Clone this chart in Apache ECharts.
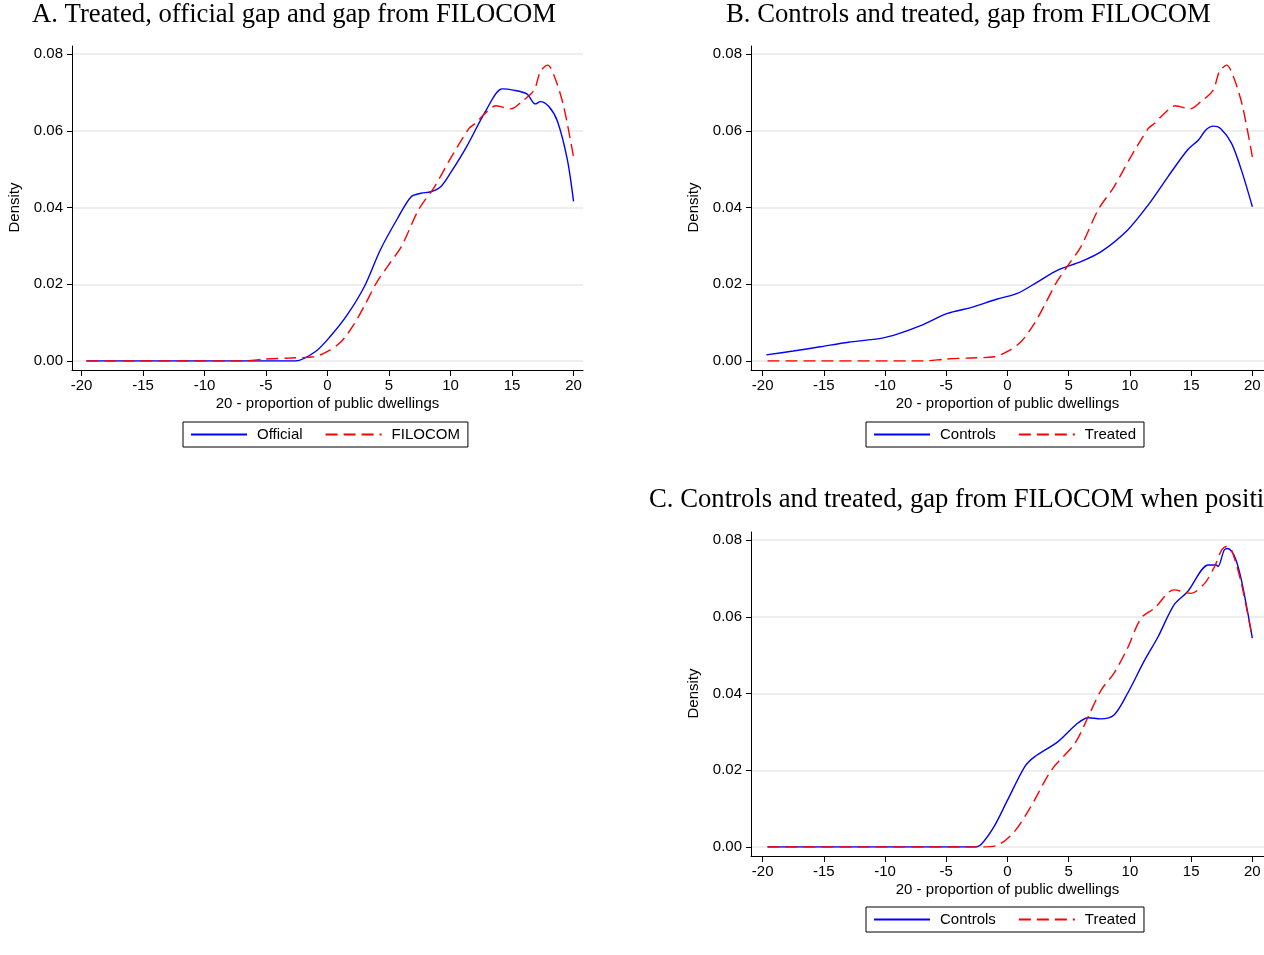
<!DOCTYPE html>
<html>
<head>
<meta charset="utf-8">
<script src="https://cdn.jsdelivr.net/npm/echarts@6/dist/echarts.min.js"></script>
<style>html,body{margin:0;padding:0;background:#fff}#c{width:1264px;height:955px}</style>
</head>
<body>
<div id="c"></div>
<script>
// ---- data ----
const titles = [
  'A. Treated, official gap and gap from FILOCOM',
  'B. Controls and treated, gap from FILOCOM',
  'C. Controls and treated, gap from FILOCOM when positive'
];
const xTicks = [-20, -15, -10, -5, 0, 5, 10, 15, 20];
const xTitle = '20 - proportion of public dwellings';
const yTitle = 'Density';

// Panel A: Official (treated, official gap)
const aOfficialX = [-19.6, -10, -5, -2.6, -1.0, 0.2, 1.6, 3.0, 4.3, 5.7, 6.8, 7.6, 8.4, 9.2, 10.0, 11.3, 12.9, 14.2, 15.1, 16.2, 16.9, 17.3, 18.0, 18.7, 19.5, 20];
const aOfficialY = [0, 0, 0, 0, 0.0024, 0.0063, 0.012, 0.0194, 0.029, 0.0372, 0.0428, 0.0437, 0.0441, 0.0454, 0.049, 0.0558, 0.0654, 0.0709, 0.0706, 0.0696, 0.067, 0.0676, 0.0663, 0.0624, 0.0524, 0.0416];

// Treated, gap from FILOCOM (Panel A "FILOCOM" and Panel B "Treated")
const filocomX = [-19.6, -7, -5, -3, -1.1, 0, 1.1, 2.2, 3.1, 4.0, 5.0, 6.0, 7.4, 8.7, 10.0, 11.5, 12.0, 12.8, 13.7, 14.9, 15.8, 16.8, 17.3, 17.9, 18.5, 19.2, 20];
const filocomY = [0, 0, 0.0005, 0.0008, 0.0011, 0.0025, 0.005, 0.0098, 0.015, 0.0205, 0.0252, 0.0298, 0.0394, 0.0454, 0.0528, 0.0606, 0.0619, 0.0645, 0.0665, 0.0657, 0.0676, 0.0706, 0.0754, 0.0771, 0.0737, 0.0663, 0.0532];

// Panel B: Controls
const bControlsX = [-19.7, -17.5, -15.3, -13, -10.35, -9.0, -7.1, -4.9, -3.0, -0.9, 0.8, 2.5, 4.1, 6.0, 7.65, 9.8, 11.5, 13.1, 14.7, 15.6, 16.2, 16.8, 17.4, 18.3, 19.1, 20];
const bControlsY = [0.0016, 0.0026, 0.0037, 0.0049, 0.0059, 0.007, 0.0092, 0.0124, 0.0139, 0.0161, 0.0176, 0.0207, 0.0237, 0.0259, 0.0285, 0.0341, 0.0407, 0.048, 0.055, 0.0576, 0.0602, 0.0612, 0.0606, 0.0567, 0.0498, 0.0402];

// Panel C: Controls and Treated, gap when positive
const cControlsX = [-19.6, -10, -2.7, -2.2, -1.1, 0, 1.4, 2.2, 4.1, 5.7, 6.6, 7.6, 8.7, 9.8, 11.2, 12.3, 13.6, 14.7, 16.4, 17.05, 17.2, 17.7, 18.0, 18.55, 19.1, 20];
const cControlsY = [0, 0, 0, 0.0005, 0.0053, 0.0122, 0.0209, 0.0235, 0.0274, 0.0322, 0.0337, 0.0334, 0.0344, 0.04, 0.0487, 0.0548, 0.0631, 0.0665, 0.0735, 0.0735, 0.0731, 0.0774, 0.0778, 0.0757, 0.0696, 0.0544];
const cTreatedX = [-19.6, -10, -2.2, -0.8, 0.56, 1.9, 3.6, 5.5, 6.6, 7.65, 8.7, 9.8, 10.9, 12.0, 13.6, 15.0, 16.1, 16.9, 17.5, 17.9, 18.3, 19.1, 20];
const cTreatedY = [0, 0, 0, 0.0005, 0.004, 0.0105, 0.0201, 0.027, 0.034, 0.0409, 0.0453, 0.0518, 0.0596, 0.0622, 0.067, 0.0661, 0.0687, 0.073, 0.0774, 0.0783, 0.0774, 0.0687, 0.0544];

// ---- build ----
const zip = (xs, ys) => xs.map((x, i) => [x, ys[i]]);
const SANS = "'Liberation Sans', Arial, sans-serif";
const SERIF = "'Liberation Serif', 'Times New Roman', serif";
const BLUE = '#0000ff', RED = '#ff0000';

const panels = [
  { left: 72,  top: 54,  width: 511, xr: 20.77, legendLeft: 183, legendTop: 422, names: ['Official', 'FILOCOM'], titleLeft: 32,  titleTop: 1 },
  { left: 751, top: 54,  width: 513, xr: 20.95, legendLeft: 866, legendTop: 422, names: ['Controls', 'Treated'], titleLeft: 726, titleTop: 1 },
  { left: 751, top: 540, width: 513, xr: 20.95, legendLeft: 866, legendTop: 907, names: ['Controls', 'Treated'], titleLeft: 649, titleTop: 486 }
];
const PH = 307; // plot height (0 to 0.08)

const grid = [], xAxis = [], yAxis = [], legend = [], title = [];
panels.forEach((p, i) => {
  grid.push({ left: p.left, top: p.top, width: p.width, height: PH, containLabel: false });
  title.push({ text: titles[i], left: p.titleLeft, top: p.titleTop, padding: 0,
    textStyle: { fontFamily: SERIF, fontSize: 26.7, fontWeight: 'normal', color: '#000' } });
  xAxis.push({
    gridIndex: i, type: 'value', min: -p.xr, max: p.xr, offset: 9,
    axisLine: { show: true, onZero: false, lineStyle: { color: '#000', width: 1 } },
    axisTick: { show: true, length: 6, customValues: xTicks, lineStyle: { color: '#000' } },
    axisLabel: { customValues: xTicks, margin: 8, fontFamily: SANS, fontSize: 15, color: '#000' },
    splitLine: { show: false },
    name: xTitle, nameLocation: 'middle', nameGap: 26,
    nameTextStyle: { fontFamily: SANS, fontSize: 15, color: '#000' }
  });
  yAxis.push({
    gridIndex: i, type: 'value', min: 0, max: 0.08, interval: 0.02,
    axisLine: { show: false, onZero: false },
    axisTick: { show: true, length: 5, lineStyle: { color: '#000' } },
    axisLabel: { margin: 9, fontFamily: SANS, fontSize: 15, color: '#000', formatter: v => v.toFixed(2) },
    splitLine: { show: true, lineStyle: { color: '#e8e8e8', width: 1.5 } },
    name: yTitle, nameLocation: 'middle', nameGap: 50,
    nameTextStyle: { fontFamily: SANS, fontSize: 15, color: '#000' }
  });
  legend.push({
    left: p.legendLeft, top: p.legendTop, orient: 'horizontal',
    itemWidth: 56, itemHeight: 14, itemGap: 22, padding: [5, 8, 5, 7],
    borderColor: '#000', borderWidth: 1, borderRadius: 0,
    itemStyle: { opacity: 0 },
    textStyle: { fontFamily: SANS, fontSize: 15, color: '#000', padding: [0, 0, 0, 5] },
    data: p.names, selectedMode: false
  });
});
// frame grids for full-length y axis lines
panels.forEach((p, i) => {
  grid.push({ left: p.left, top: p.top - 8, width: p.width, height: PH + 17 });
  xAxis.push({ gridIndex: 3 + i, type: 'value', min: 0, max: 1, show: false });
  yAxis.push({ gridIndex: 3 + i, type: 'value', min: 0, max: 1,
    axisLine: { show: true, onZero: false, lineStyle: { color: '#000', width: 1 } },
    axisTick: { show: false }, axisLabel: { show: false }, splitLine: { show: false } });
});

function line(name, xs, ys, idx, color, dashed) {
  return {
    type: 'line', name, xAxisIndex: idx, yAxisIndex: idx,
    data: zip(xs, ys), symbol: 'none', showSymbol: false, smooth: 0.3,
    lineStyle: { color, width: 1.4, type: dashed ? [12, 6] : 'solid' },
    itemStyle: { color }, z: dashed ? 3 : 2
  };
}
const series = [
  line('Official', aOfficialX, aOfficialY, 0, BLUE, false),
  line('FILOCOM', filocomX, filocomY, 0, RED, true),
  line('Controls', bControlsX, bControlsY, 1, BLUE, false),
  line('Treated', filocomX, filocomY, 1, RED, true),
  line('Controls', cControlsX, cControlsY, 2, BLUE, false),
  line('Treated', cTreatedX, cTreatedY, 2, RED, true)
];

const chart = echarts.init(document.getElementById('c'), null, { renderer: 'canvas' });
chart.setOption({ animation: false, backgroundColor: '#fff', title, grid, xAxis, yAxis, legend, series });
</script>
</body>
</html>
